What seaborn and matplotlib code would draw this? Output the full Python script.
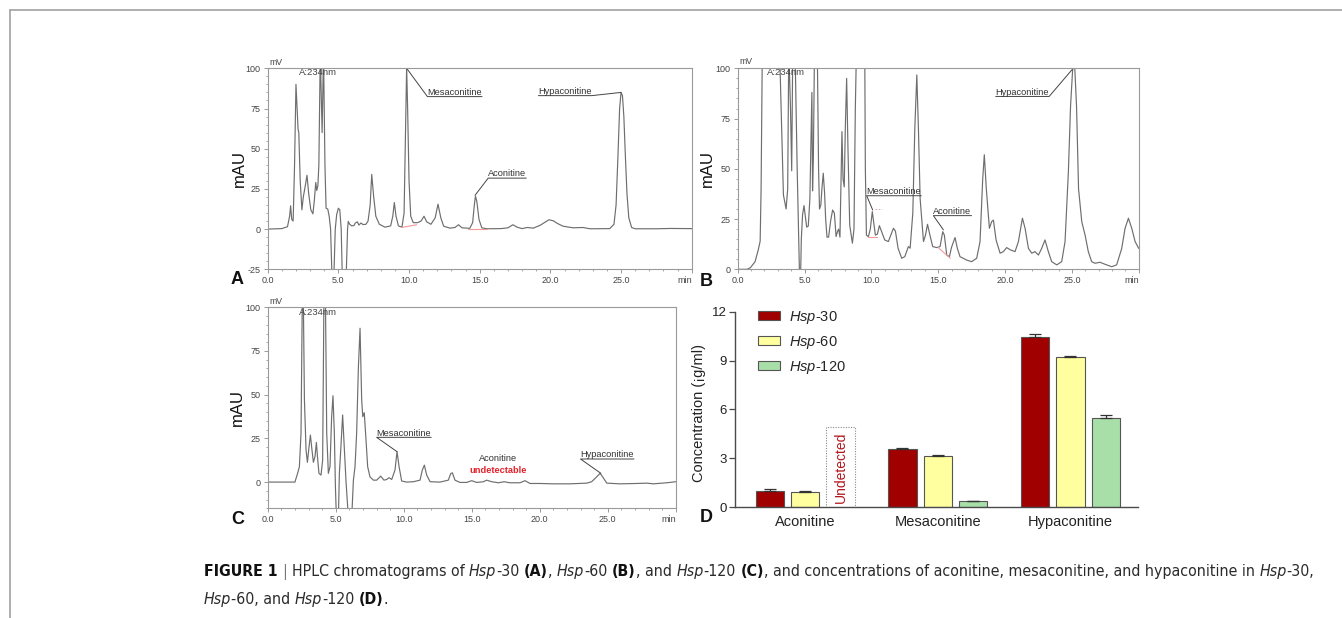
import numpy as np
import pandas as pd
import matplotlib
matplotlib.use("Agg")
import matplotlib.pyplot as plt
import matplotlib.transforms as mtransforms
from matplotlib.lines import Line2D
from matplotlib.patches import Rectangle
from matplotlib.font_manager import FontProperties, fontManager
import seaborn as sns

# ---------------- data ----------------
# chromatogram traces: (retention time [min], signal [mAU])
trace_A = [(0.0, 0.0), (1.0, 0.3), (1.4, 1.5), (1.55, 8), (1.62, 14.5), (1.7, 6), (1.8, 5), (1.9, 40),
           (2.0, 90), (2.08, 75), (2.15, 62), (2.2, 60), (2.3, 30), (2.42, 12), (2.52, 20), (2.6, 24),
           (2.68, 28), (2.78, 33.5), (2.9, 22), (3.05, 12), (3.2, 9.5), (3.3, 18), (3.4, 29), (3.47, 24),
           (3.55, 27), (3.62, 40), (3.72, 110), (3.85, 60), (3.95, 110), (4.05, 40), (4.13, 13), (4.25, 12.5),
           (4.35, 8), (4.45, 0), (4.55, -30), (4.68, -30), (4.78, 0), (4.88, 9), (5.0, 13), (5.1, 12),
           (5.2, 0), (5.28, -30), (5.55, -30), (5.65, 0), (5.7, 4.8), (5.8, 3), (5.95, 2), (6.1, 2.2),
           (6.2, 3.8), (6.35, 4.5), (6.45, 2.5), (6.6, 3.8), (6.75, 2.8), (6.95, 3.0), (7.1, 5), (7.25, 15),
           (7.36, 34), (7.5, 20), (7.65, 8), (7.9, 3), (8.3, 1.2), (8.7, 2), (8.85, 8), (8.96, 16.5),
           (9.08, 8), (9.25, 2), (9.5, 1.2), (9.65, 10), (9.75, 60), (9.83, 101), (9.9, 75), (10.0, 30),
           (10.12, 8), (10.3, 4), (10.6, 4), (10.85, 5), (11.06, 8), (11.25, 4.5), (11.55, 3), (11.85, 7),
           (12.05, 15.5), (12.25, 7), (12.45, 1.8), (12.9, 0.6), (13.25, 1), (13.5, 2.7), (13.75, 0.8),
           (14.3, 0.5), (14.5, 4), (14.62, 15), (14.7, 20.5), (14.8, 17), (14.95, 6), (15.15, 0.8),
           (15.5, 0.2), (16.5, 0.3), (17.0, 0.8), (17.35, 2.7), (17.65, 1.2), (18.0, 0.3), (18.35, 1.0),
           (18.8, 0.6), (19.3, 2.5), (19.9, 5.8), (20.2, 5.2), (20.5, 3.5), (20.9, 1.8), (21.6, 0.8),
           (22.3, 1.0), (22.8, 0.2), (24.2, 0.3), (24.5, 3), (24.65, 15), (24.78, 45), (24.9, 75),
           (25.0, 85), (25.1, 83), (25.2, 70), (25.3, 47), (25.42, 22), (25.55, 7), (25.75, 1), (26.0, 0.2),
           (27.5, 0.2), (28.5, 0.4), (30.0, 0.3)]

trace_B = [(0.0, 0.0), (0.7, 0.0), (0.95, 0.8), (1.3, 3.8), (1.55, 10), (1.68, 14), (1.75, 40), (1.85, 115),
           (2.5, 150), (3.1, 115), (3.17, 100), (3.42, 37), (3.62, 30), (3.74, 40), (3.82, 110), (3.95, 80),
           (4.04, 49), (4.12, 110), (4.3, 105), (4.45, 50), (4.58, 10), (4.63, -5), (4.7, -5), (4.76, 15),
           (4.85, 27), (4.96, 31.7), (5.05, 27), (5.16, 21), (5.28, 21.5), (5.4, 35), (5.5, 70), (5.55, 88),
           (5.6, 39), (5.66, 55), (5.75, 112), (5.95, 112), (6.05, 50), (6.12, 30), (6.22, 32), (6.3, 40),
           (6.4, 47.8), (6.5, 38), (6.58, 25), (6.68, 16), (6.8, 16), (6.95, 24), (7.1, 29.5), (7.23, 28),
           (7.36, 16.3), (7.46, 18.7), (7.55, 20), (7.65, 16), (7.72, 40), (7.8, 68.5), (7.88, 45),
           (7.97, 41), (8.05, 70), (8.15, 95), (8.25, 60), (8.38, 22), (8.58, 13), (8.7, 20), (8.8, 80),
           (8.9, 115), (9.5, 115), (9.55, 50), (9.63, 17), (9.78, 16.3), (9.92, 20), (10.07, 28.7),
           (10.2, 22), (10.3, 17), (10.45, 17.5), (10.6, 21.7), (10.75, 19), (11.0, 14.6), (11.27, 13.8),
           (11.45, 17), (11.65, 20.4), (11.8, 19), (12.0, 10.4), (12.27, 5.5), (12.5, 6.3), (12.77, 11.3),
           (12.9, 10.5), (13.1, 28), (13.25, 70), (13.4, 96.7), (13.52, 70), (13.65, 35), (13.9, 13.8),
           (14.05, 17), (14.2, 22.4), (14.38, 17), (14.59, 11.3), (14.89, 10.8), (15.14, 11.3),
           (15.34, 18.7), (15.46, 17), (15.64, 7.1), (15.84, 6.3), (16.0, 11), (16.26, 15.8), (16.43, 10.5),
           (16.63, 6.3), (17.13, 4.6), (17.5, 3.8), (17.88, 5.5), (18.13, 13.8), (18.33, 45), (18.45, 57),
           (18.6, 40), (18.83, 20.4), (19.0, 23.7), (19.13, 24.5), (19.33, 14.6), (19.63, 8), (19.88, 8.8),
           (20.12, 10.8), (20.42, 9.6), (20.75, 8.8), (21.0, 13.8), (21.3, 25.4), (21.5, 20.4),
           (21.75, 10.4), (22.0, 8), (22.24, 8.8), (22.5, 7.1), (22.74, 10.4), (22.99, 14.6), (23.24, 8.8),
           (23.49, 3.8), (23.87, 2.2), (24.24, 3.8), (24.49, 13.8), (24.74, 48.6), (24.9, 81), (25.15, 110),
           (25.35, 81), (25.5, 40), (25.74, 23.7), (25.99, 17), (26.23, 8.8), (26.48, 3.8), (26.73, 3.0),
           (27.1, 3.5), (27.48, 2.5), (27.98, 1.3), (28.35, 2.2), (28.73, 10.4), (28.98, 20.4),
           (29.23, 25.4), (29.48, 20.4), (29.73, 13.8), (30.0, 10.4)]

trace_C = [(0.0, 0.0), (2.0, 0.0), (2.2, 5), (2.33, 8.8), (2.45, 28), (2.55, 110), (2.62, 105), (2.7, 47),
           (2.82, 18.3), (2.92, 11.3), (3.04, 20.2), (3.14, 26.9), (3.26, 18), (3.36, 11.3), (3.48, 14.7),
           (3.58, 22.7), (3.68, 12.6), (3.77, 5), (3.92, 4), (4.04, 12.6), (4.14, 110), (4.24, 110),
           (4.34, 28), (4.46, 5), (4.58, 8.8), (4.7, 37), (4.8, 49.4), (4.9, 28), (4.98, -3), (5.05, -20),
           (5.2, -20), (5.27, 5), (5.37, 18.3), (5.51, 38.4), (5.64, 18.3), (5.76, 0.2), (5.93, -20),
           (6.18, -20), (6.3, 1), (6.42, 8.8), (6.54, 28), (6.67, 66), (6.79, 88), (6.91, 47), (6.99, 37.4),
           (7.1, 39.7), (7.23, 24), (7.35, 8.8), (7.52, 3), (7.77, 1.1), (8.01, 1.1), (8.31, 3.4),
           (8.55, 1.1), (8.75, 1.5), (8.92, 2.5), (9.12, 1.5), (9.36, 6.9), (9.51, 17.4), (9.66, 8.8),
           (9.85, 0.6), (10.22, 0.0), (10.71, 0.2), (11.2, 1.1), (11.37, 6.9), (11.52, 9.7), (11.69, 4),
           (11.94, 0.2), (12.67, 0.0), (13.28, 1.1), (13.46, 4.9), (13.58, 5.3), (13.77, 1.1),
           (14.14, -0.2), (14.63, -0.2), (15.0, 0.8), (15.37, -0.2), (15.86, 0.2), (16.1, 1.1),
           (16.47, 0.2), (16.96, -0.4), (17.38, 0.2), (17.82, -0.4), (18.55, -0.4), (18.92, 0.8),
           (19.29, -0.8), (20.02, -0.8), (21.0, -1.0), (22.23, -1.0), (23.46, -0.6), (23.82, 0.2),
           (24.19, 3), (24.44, 5), (24.63, 3), (24.93, -0.6), (25.9, -1.0), (27.13, -0.8), (27.87, -0.6),
           (28.36, -1.0), (29.34, -0.4), (30.0, 0.2)]

# bar chart (panel D)
compounds = ["Aconitine", "Mesaconitine", "Hypaconitine"]
samples = ["Hsp-30", "Hsp-60", "Hsp-120"]
conc = {"Hsp-30": [1.0, 3.54, 10.42],
        "Hsp-60": [0.9, 3.15, 9.2],
        "Hsp-120": [None, 0.35, 5.49]}      # aconitine undetected in Hsp-120
conc_err = {"Hsp-30": [0.08, 0.1, 0.2],
            "Hsp-60": [0.1, 0.07, 0.08],
            "Hsp-120": [None, 0.04, 0.15]}
undetected_box_top = 4.9

chrom_xticks = [0, 5, 10, 15, 20, 25, 30]
chrom_xticklabels = ["0.0", "5.0", "10.0", "15.0", "20.0", "25.0", "min"]

# ---------------- style ----------------
sns.set_style("white")
plt.rcParams["font.family"] = ["Liberation Sans", "DejaVu Sans"]
plt.rcParams["mathtext.fontset"] = "custom"
plt.rcParams["mathtext.rm"] = "Liberation Sans"
plt.rcParams["mathtext.it"] = "Liberation Sans:italic"
plt.rcParams["mathtext.bf"] = "Liberation Sans:bold"

W, H = 1342, 618
fig = plt.figure(figsize=(W / 100, H / 100), dpi=100)
fig.patch.set_facecolor("white")
renderer = fig.canvas.get_renderer()


def px_axes(l, t, r, b):
    return fig.add_axes([l / W, 1 - b / H, (r - l) / W, (b - t) / H])


axA = px_axes(267.7, 68.3, 691.7, 269.3)
axB = px_axes(737.7, 68.3, 1138.7, 269.3)
axC = px_axes(267.7, 307.3, 675.7, 508.3)
axD = px_axes(735, 311.7, 1138, 507)

TRACE_COLOR = "#6e6e6e"
SPINE_COLOR = "#9a9a9a"
TXT = "#333333"


def chrom(ax, trace, ylim, yticks, label_x):
    t = [p[0] for p in trace]
    y = [p[1] for p in trace]
    sns.lineplot(x=t, y=y, ax=ax, color=TRACE_COLOR, lw=0.85, sort=False, estimator=None)
    ax.set_xlim(0, 30)
    ax.set_ylim(*ylim)
    ax.set_xticks(chrom_xticks)
    ax.set_xticklabels(chrom_xticklabels)
    ax.get_xticklabels()[-1].set_ha("right")
    ax.set_xticks(np.arange(0, 31, 1), minor=True)
    ax.set_yticks(yticks)
    ax.set_yticklabels([str(v) for v in yticks])
    ax.set_yticks(np.arange(ylim[0] - ylim[0] % 5, 101, 5), minor=True)
    ax.tick_params(axis="both", which="major", direction="out", length=3, width=0.7,
                   color=SPINE_COLOR, labelsize=6.5, labelcolor="#444444", pad=2)
    ax.tick_params(axis="both", which="minor", direction="out", length=1.6, width=0.6, color=SPINE_COLOR)
    ax.tick_params(axis="x", which="both", bottom=True)
    ax.tick_params(axis="y", which="both", left=True)
    for s in ax.spines.values():
        s.set_color(SPINE_COLOR)
        s.set_linewidth(0.8)
        s.set_visible(True)
    ax.set_xlabel("")
    ax.set_ylabel("mAU", fontsize=12, color="#111111")
    ax.yaxis.set_label_coords(label_x, 0.5)
    ax.set_facecolor("white")
    ax.grid(False)


chrom(axA, trace_A, (-25, 100), [-25, 0, 25, 50, 75, 100], -0.048)
chrom(axB, trace_B, (0, 100), [0, 25, 50, 75, 100], -0.056)
chrom(axC, trace_C, (-15, 100), [0, 25, 50, 75, 100], -0.055)


def peak_label(ax, text, x, y_ul, peak, attach="left", fs=6.7):
    trans = mtransforms.offset_copy(ax.transData, fig=fig, y=1.3, units="points")
    txt = ax.text(x, y_ul, text, transform=trans, fontsize=fs, color=TXT, ha="left", va="baseline")
    bb = txt.get_window_extent(renderer)
    x1 = ax.transData.inverted().transform((bb.x1, bb.y0))[0]
    if attach == "left":
        xs, ys = [peak[0], x, x1], [peak[1], y_ul, y_ul]
    else:
        xs, ys = [x, x1, peak[0]], [y_ul, y_ul, peak[1]]
    ax.add_line(Line2D(xs, ys, color="#444444", lw=0.7, clip_on=False))


def header(ax, mv_y, a_x, a_y):
    ax.text(0.15, mv_y, "mV", fontsize=6.3, color="#444444", va="bottom", ha="left")
    ax.text(a_x, a_y, "A:234nm", fontsize=6.8, color="#444444", va="center", ha="left")


# Panel A annotations
header(axA, 101.0, 2.2, 97.3)
peak_label(axA, "Mesaconitine", 11.3, 82.4, (9.83, 100), "left")
peak_label(axA, "Hypaconitine", 19.15, 83.0, (25.0, 85), "right")
peak_label(axA, "Aconitine", 15.6, 31.7, (14.67, 21), "left")
axA.add_line(Line2D([9.48, 10.54], [1.0, 2.7], color="#f19a9a", lw=0.8))
axA.add_line(Line2D([14.2, 15.5], [0.0, 0.0], color="#f19a9a", lw=0.8))

# Panel B annotations
header(axB, 101.0, 2.17, 98.0)
peak_label(axB, "Mesaconitine", 9.65, 36.6, (10.1, 29.5), "left")
peak_label(axB, "Aconitine", 14.64, 26.7, (15.39, 19.6), "left")
peak_label(axB, "Hypaconitine", 19.3, 86.0, (25.1, 100), "right")
axB.add_line(Line2D([9.78, 10.4], [16.3, 16.3], color="#f19a9a", lw=0.8))
axB.add_line(Line2D([15.0, 15.9], [10.8, 5.5], color="#f19a9a", lw=0.8))
axB.add_line(Line2D([10.3, 10.8], [29.9, 29.9], color="#c8a0a0", lw=0.6, ls=(0, (2, 2))))

# Panel C annotations
header(axC, 100.8, 2.3, 97.0)
peak_label(axC, "Mesaconitine", 8.01, 25.6, (9.51, 17.4), "left")
peak_label(axC, "Hypaconitine", 23.0, 13.2, (24.5, 5.0), "left")
axC.text(16.94, 13.5, "Aconitine", fontsize=6.7, color=TXT, ha="center", va="center")
axC.text(16.94, 6.9, "undetectable", fontsize=6.7, color="#e3222b", fontweight="bold",
         ha="center", va="center")

# ---------------- Panel D ----------------
rows = []
for s in samples:
    for c, v in zip(compounds, conc[s]):
        if v is not None:
            rows.append({"compound": c, "sample": s, "conc": v})
df = pd.DataFrame(rows)
palette = {"Hsp-30": "#a00000", "Hsp-60": "#ffffa0", "Hsp-120": "#a8dfa8"}
sns.barplot(data=df, x="compound", y="conc", hue="sample", order=compounds, hue_order=samples,
            palette=palette, edgecolor="#555555", linewidth=0.8, gap=0.2, errorbar=None,
            saturation=1, ax=axD)

for cont, s in zip(axD.containers, samples):
    for bar in cont:
        cx = bar.get_x() + bar.get_width() / 2
        ci = int(round(cx))
        err = conc_err[s][ci]
        if err is None:
            continue
        axD.errorbar(cx, bar.get_height(), yerr=[[0], [err]], fmt="none", ecolor="#333333",
                     elinewidth=0.9, capsize=4, capthick=0.9, zorder=1)

# undetected placeholder in the Hsp-120 slot of Aconitine
ref_bar = axD.containers[2][0]
bx = ref_bar.get_x() - 1
bw = ref_bar.get_width()
axD.add_patch(Rectangle((bx, 0), bw, undetected_box_top, fill=False, ls=(0, (1, 1.3)),
                        ec="#8a8a8a", lw=0.8))
axD.text(bx + bw / 2, undetected_box_top / 2, "Undetected", rotation=90, color="#b3161d",
         fontsize=10, ha="center", va="center")

axD.set_xlim(-0.53, 2.51)
axD.set_ylim(0, 12)
axD.set_yticks([0, 3, 6, 9, 12])
axD.set_xlabel("")
axD.set_ylabel("Concentration (¡g/ml)", fontsize=10.5, color="#222222")
axD.yaxis.set_label_coords(-0.072, 0.48)
for k in ["top", "right"]:
    axD.spines[k].set_visible(False)
for k in ["left", "bottom"]:
    axD.spines[k].set_color("#4a4a4a")
    axD.spines[k].set_linewidth(1.0)
axD.tick_params(axis="y", direction="out", length=4, width=0.9, color="#4a4a4a",
                labelsize=9.5, labelcolor="#222222", pad=2, left=True)
axD.tick_params(axis="x", length=0, labelsize=10.5, labelcolor="#222222", pad=6)
axD.grid(False)
handles, _ = axD.get_legend_handles_labels()
axD.legend(handles, [r"$\mathit{Hsp}$-30", r"$\mathit{Hsp}$-60", r"$\mathit{Hsp}$-120"],
           loc="upper left", bbox_to_anchor=(0.058, 1.015), frameon=False, fontsize=10.5,
           handlelength=1.45, handleheight=0.62, handletextpad=0.65, labelspacing=0.55,
           borderpad=0, borderaxespad=0)

# ---------------- panel letters ----------------
for letter, (x, y) in {"A": (237, 280), "B": (706, 282), "C": (238, 519), "D": (706, 518)}.items():
    fig.text(x / W, 1 - y / H, letter, fontsize=13, fontweight="bold", ha="center", va="center",
             color="#111111")

# ---------------- frame ----------------
fig.add_artist(Line2D([9.5 / W, 1.0], [1 - 9.5 / H, 1 - 9.5 / H], transform=fig.transFigure,
                      color="#a8a8a8", lw=1.3))
fig.add_artist(Line2D([9.5 / W, 9.5 / W], [1 - 9.5 / H, 0.0], transform=fig.transFigure,
                      color="#a8a8a8", lw=1.3))

# ---------------- caption ----------------
names = {f.name for f in fontManager.ttflist}
if "Liberation Sans Narrow" in names:
    cap_fam, cap_stretch = "Liberation Sans Narrow", "normal"
elif any(f.name == "DejaVu Sans" and f.stretch == "condensed" for f in fontManager.ttflist):
    cap_fam, cap_stretch = "DejaVu Sans", "condensed"
else:
    cap_fam, cap_stretch = "Liberation Sans", "normal"


def cap_prop(style, size):
    return FontProperties(family=cap_fam, stretch=cap_stretch, size=size,
                          weight="bold" if style == "b" else "normal",
                          style="italic" if style == "i" else "normal")


def adv(s, prop):
    w1 = renderer.get_text_width_height_descent("|" + s + "|", prop, ismath=False)[0]
    w2 = renderer.get_text_width_height_descent("||", prop, ismath=False)[0]
    return w1 - w2


line1 = [("FIGURE 1", "b"), (" ", "n"), ("|", "g"), (" HPLC chromatograms of ", "n"), ("Hsp", "i"),
         ("-30 ", "n"), ("(A)", "b"), (", ", "n"), ("Hsp", "i"), ("-60 ", "n"), ("(B)", "b"),
         (", and ", "n"), ("Hsp", "i"), ("-120 ", "n"), ("(C)", "b"),
         (", and concentrations of aconitine, mesaconitine, and hypaconitine in ", "n"),
         ("Hsp", "i"), ("-30,", "n")]
line2 = [("Hsp", "i"), ("-60, and ", "n"), ("Hsp", "i"), ("-120 ", "n"), ("(D)", "b"), (".", "n")]

base = 10.0
w_base = sum(adv(s, cap_prop(st, base)) for s, st in line1)
cap_size = base * 1114.0 / w_base


def draw_runs(runs, x, yb):
    for s, st in runs:
        prop = cap_prop(st, cap_size)
        lead = len(s) - len(s.lstrip(" "))
        core = s.strip(" ")
        if core:
            color = "#777777" if st == "g" else ("#111111" if st == "b" else "#2b2b2b")
            fig.text((x + adv(" " * lead, prop)) / W, 1 - yb / H, core, fontproperties=prop,
                     color=color, ha="left", va="baseline")
        x += adv(s, prop)


draw_runs(line1, 204, 576)
draw_runs(line2, 204, 604)

fig.savefig("out.png", dpi=100, facecolor="white")
